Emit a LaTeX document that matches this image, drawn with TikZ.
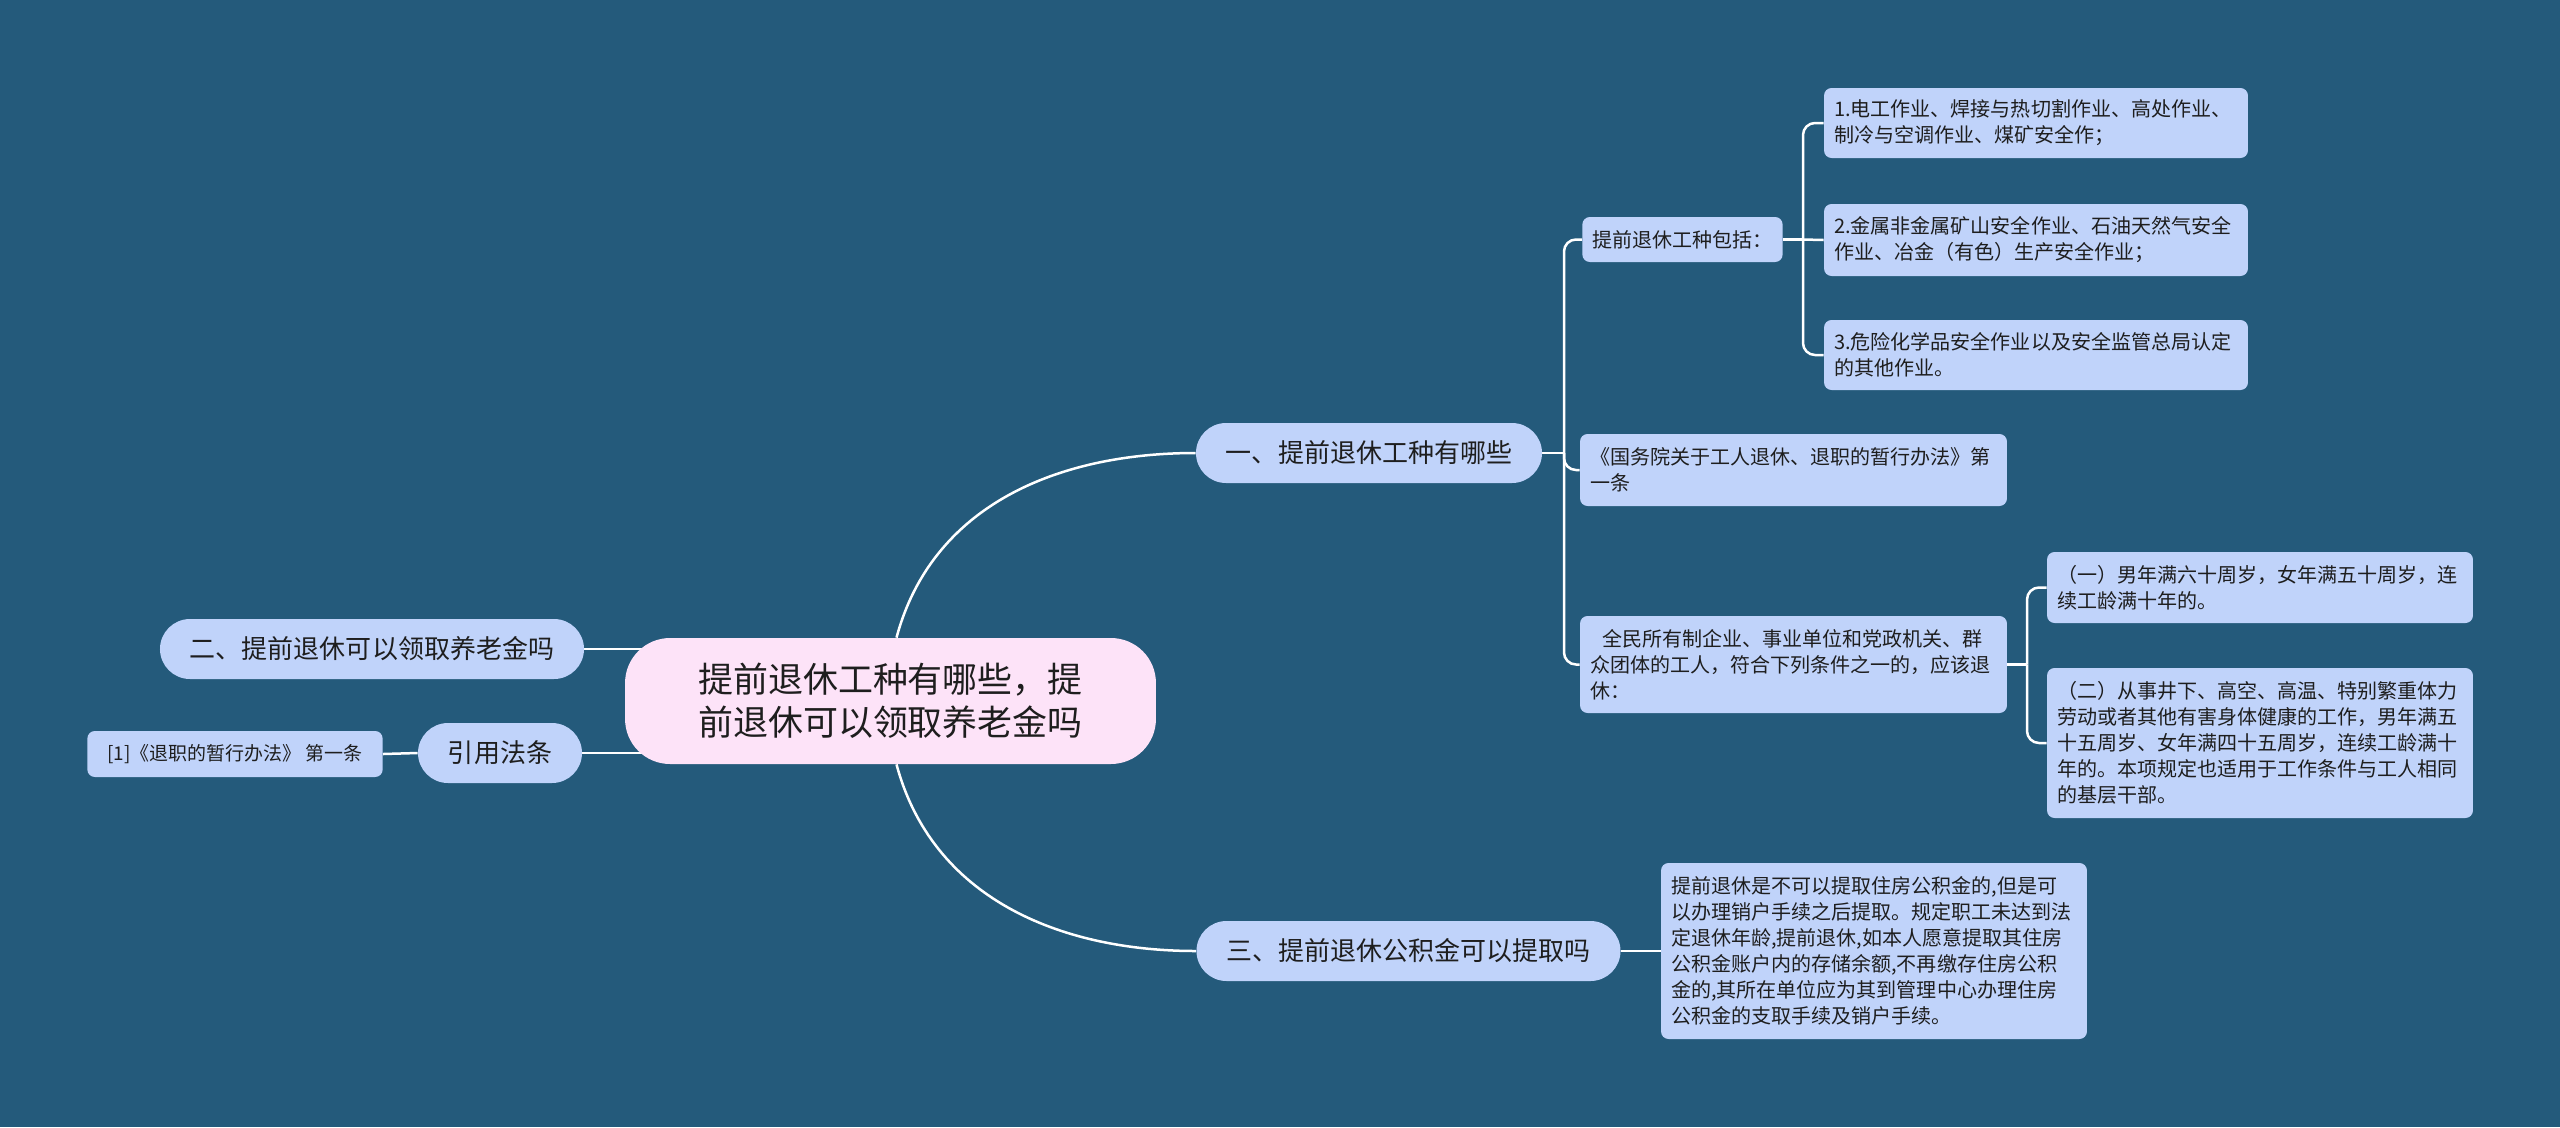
\documentclass[tikz,border=0pt]{standalone}
\usepackage{fontspec}
\usepackage{tikz}
\usetikzlibrary{backgrounds}
\newfontfamily\cjk{Noto Sans CJK SC}
\definecolor{kartbg}{HTML}{245A7B}
\definecolor{boksblaa}{HTML}{C0D3FA}
\definecolor{rotrosa}{HTML}{FDE3F8}
\definecolor{tekst}{HTML}{1E1E1E}

\begin{document}
\begin{tikzpicture}[x=0.02cm, y=-0.02cm,
  rot/.style={fill=rotrosa, rounded corners=0.9cm, minimum width=10.62cm, minimum height=2.52cm,
    align=center, text=tekst, font=\cjk\fontsize{19.9pt}{24.5pt}\selectfont},
  gren/.style={fill=boksblaa, rounded corners=0.6cm, minimum height=1.2cm, inner xsep=0.6cm,
    text=tekst, font=\cjk\fontsize{14.8pt}{18pt}\selectfont},
  blad/.style={fill=boksblaa, rounded corners=0.15cm, inner xsep=0.2cm, inner ysep=0.15cm,
    align=left, text=tekst, font=\cjk\fontsize{11.4pt}{14.8pt}\selectfont},
  lenke/.style={draw=white, line width=0.05cm},
]
  % === Rot og hovedgrener ===
  \node[rot] (root) at (890.5,701) {提前退休工种有哪些，提\\前退休可以领取养老金吗};
  \node[gren] (b1) at (1369,453) {一、提前退休工种有哪些};
  \node[gren] (b2) at (372,649) {二、提前退休可以领取养老金吗};
  \node[gren] (b3) at (1408.5,951) {三、提前退休公积金可以提取吗};
  \node[gren] (cite) at (500,753) {引用法条};
  \node[blad, font=\cjk\fontsize{10.8pt}{14pt}\selectfont, inner xsep=0.4cm, minimum height=0.92cm] (ref)
    at (235,754) {[1]《退职的暂行办法》 第一条};

  % === Gren 1: tekstbokser ===
  \node[blad, minimum height=0.9cm] (types) at (1682.5,239.5) {提前退休工种包括：};
  \node[blad, text width=8.08cm, minimum height=1.4cm] (item1) at (2036,123)
    {1.电工作业、焊接与热切割作业、高处作业、\\制冷与空调作业、煤矿安全作；};
  \node[blad, text width=8.08cm, minimum height=1.44cm] (item2) at (2036,240)
    {2.金属非金属矿山安全作业、石油天然气安全\\作业、冶金（有色）生产安全作业；};
  \node[blad, text width=8.08cm, minimum height=1.4cm] (item3) at (2036,355)
    {3.危险化学品安全作业以及安全监管总局认定\\的其他作业。};
  \node[blad, text width=8.14cm, minimum height=1.44cm] (law) at (1793.5,470)
    {《国务院关于工人退休、退职的暂行办法》第\\一条};
  \node[blad, text width=8.14cm, minimum height=1.94cm] (whole) at (1793.5,664.5)
    {\hspace{0.6em}全民所有制企业、事业单位和党政机关、群\\众团体的工人，符合下列条件之一的，应该退\\休：};
  \node[blad, text width=8.12cm, minimum height=1.42cm] (cond1) at (2260,587.5)
    {（一）男年满六十周岁，女年满五十周岁，连\\续工龄满十年的。};
  \node[blad, text width=8.12cm, minimum height=3.0cm] (cond2) at (2260,743)
    {（二）从事井下、高空、高温、特别繁重体力\\劳动或者其他有害身体健康的工作，男年满五\\十五周岁、女年满四十五周岁，连续工龄满十\\年的。本项规定也适用于工作条件与工人相同\\的基层干部。};

  % === Gren 3: tekstboks ===
  \node[blad, text width=8.12cm, minimum height=3.52cm] (fund) at (1874,951)
    {提前退休是不可以提取住房公积金的,但是可\\以办理销户手续之后提取。规定职工未达到法\\定退休年龄,提前退休,如本人愿意提取其住房\\公积金账户内的存储余额,不再缴存住房公积\\金的,其所在单位应为其到管理中心办理住房\\公积金的支取手续及销户手续。};

  % knutepunkt for klammene
  \coordinate (j1) at (1564,453);
  \coordinate (j2) at (1803,239.5);
  \coordinate (j3) at (2027,664.5);

  \begin{pgfonlayer}{background}
    % bakgrunn
    \fill[kartbg] (0,0) rectangle (2560,1127);
    % kurver fra roten
    \draw[lenke] ([xshift=0.12cm]root.north) to[out=75, in=180] (b1.west);
    \draw[lenke] ([xshift=0.12cm]root.south) to[out=-75, in=180] (b3.west);
    \draw[lenke] (b2.east) -- ([xshift=1cm]root.west |- b2.east);
    \draw[lenke] (cite.east) -- ([xshift=1cm]root.west |- cite.east);
    \draw[lenke] (cite.west) -- (ref.east);
    % klammer
    \draw[lenke] (b1.east) -- (j1);
    \draw[lenke, rounded corners=0.24cm] (j1) |- (types.west);
    \draw[lenke, rounded corners=0.24cm] (j1) |- (law.west);
    \draw[lenke, rounded corners=0.24cm] (j1) |- (whole.west);
    \draw[lenke] (types.east) -- (j2);
    \draw[lenke, rounded corners=0.24cm] (j2) |- (item1.west);
    \draw[lenke] (j2) -- (item2.west);
    \draw[lenke, rounded corners=0.24cm] (j2) |- (item3.west);
    \draw[lenke] (whole.east) -- (j3);
    \draw[lenke, rounded corners=0.24cm] (j3) |- (cond1.west);
    \draw[lenke, rounded corners=0.24cm] (j3) |- (cond2.west);
    \draw[lenke] (b3.east) -- (fund.west);
  \end{pgfonlayer}
\end{tikzpicture}
\end{document}
